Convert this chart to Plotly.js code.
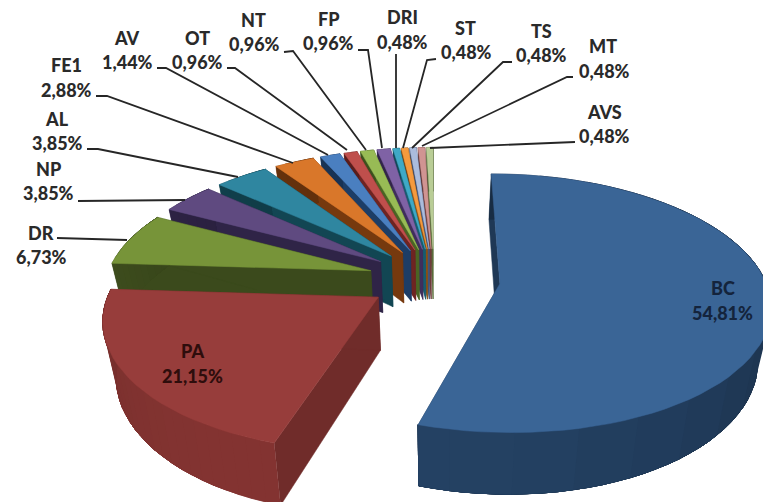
<!DOCTYPE html>
<html>
<head>
<meta charset="utf-8">
<script src="https://cdn.plot.ly/plotly-3.0.1.min.js"></script>
<style>html,body{margin:0;padding:0;background:#fff}#chart{width:763px;height:502px}</style>
</head>
<body>
<div id="chart"></div>
<script>
// Clockwise from twelve o'clock.
const categories = ['BC','PA','DR','NP','AL','FE1','AV','OT','NT','FP','DRI','ST','TS','MT','AVS'];
const shares = [54.81,21.15,6.73,3.85,3.85,2.88,1.44,0.96,0.96,0.96,0.48,0.48,0.48,0.48,0.48];
const shareLabels = ['54,81%','21,15%','6,73%','3,85%','3,85%','2,88%','1,44%','0,96%','0,96%','0,96%','0,48%','0,48%','0,48%','0,48%','0,48%'];
const topColors = ['#3a6596','#973d3b','#779439','#5f4a80','#2f86a0','#d9772a','#4a7fc0','#bf4f4c','#98bb55','#7f62a5','#3fa9c6','#f59a3e','#abbcdc','#d09492','#b9cd96'];
const sideColors = ['#1f3855','#702c2a','#3b4a1c','#2f2447','#124653','#76390e','#1d3d66','#6e2422','#4a6424','#3f2e5c','#175c70','#8a5015','#43557a','#6f3d3c','#5c6e3c'];

// Tilted-disc projection: unit pie coordinates to page pixels.
const centerX = 434, horizonY = 279, radiusX = 265, radiusY = 125;
const perspective = 0.15, explode = 0.25, thickness = 52, floorShrink = 0.04, arcSteps = 60;

function project(u, v, drop) {
  const w = 1 + perspective * v;
  const x = centerX + radiusX * u / w;
  const y = horizonY - radiusY * v / w;
  return drop ? [centerX + (x - centerX) * (1 - floorShrink), y + thickness / w] : [x, y];
}

function polygon(points, color) {
  return {
    type: 'scatter', mode: 'lines', fill: 'toself', fillcolor: color,
    x: points.map(p => p[0]), y: points.map(p => p[1]),
    line: {color: color, width: 0.5}, hoverinfo: 'skip', showlegend: false
  };
}

// Scales a hex colour's brightness for the rim shading.
function shade(hex, f) {
  const ch = [1, 3, 5].map(o => Math.min(255, Math.round(parseInt(hex.substr(o, 2), 16) * f)));
  return 'rgb(' + ch.join(',') + ')';
}

const total = shares.reduce((a, b) => a + b, 0);
let cumulative = 0;
const slices = shares.map((share, i) => {
  const start = cumulative / total * 2 * Math.PI;
  cumulative += share;
  return {i, start, end: cumulative / total * 2 * Math.PI};
});

function sliceTraces(s) {
  const mid = (s.start + s.end) / 2;
  const ou = explode * Math.sin(mid), ov = explode * Math.cos(mid);
  const steps = Math.max(2, Math.ceil(arcSteps * (s.end - s.start) / Math.PI));
  const rim = [];
  for (let k = 0; k <= steps; k++) {
    const a = s.start + (s.end - s.start) * k / steps;
    rim.push({p: [ou + Math.sin(a), ov + Math.cos(a)], a});
  }
  const hub = [ou, ov];
  const at = (p, d) => project(p[0], p[1], d);
  const side = sideColors[s.i];
  const first = rim[0].p, last = rim[rim.length - 1].p;
  const out = [
    polygon([at(hub), at(first), at(first, true), at(hub, true), at(hub)], side),
    polygon([at(hub), at(last), at(last, true), at(hub, true), at(hub)], side)
  ];
  // Rim wall: each band runs on to the end of the arc, so later bands overlap it with no seams.
  const bandLength = Math.max(1, Math.floor(steps / 14));
  for (let k = 0; k < steps; k += bandLength) {
    const run = rim.slice(k).map(r => r.p);
    const facing = Math.cos(rim[k].a - 3.5);
    const pts = run.map(p => at(p)).concat(run.slice().reverse().map(p => at(p, true)));
    out.push(polygon(pts, shade(side, 0.97 + 0.2 * facing)));
  }
  out.push(polygon([at(hub)].concat(rim.map(r => at(r.p))).concat([at(hub)]), topColors[s.i]));
  return out;
}

// Back slices first, then round to the front ones.
const paintOrder = [14,13,12,11,10,9,8,7,6,5,4,3,2,1,0];
const traces = [];
paintOrder.forEach(i => traces.push(...sliceTraces(slices[i])));

// Leader lines from the outer labels to their slices.
const leaders = {
  DR: [[57,238],[127,240]],
  NP: [[78,201],[185,200]],
  AL: [[87,149],[98,149],[238,177]],
  FE1: [[96,96],[107,96],[293,163]],
  AV: [[157,68],[166,68],[328,155]],
  OT: [[227,68],[235,68],[347,150]],
  NT: [[284,52],[293,51],[366,150]],
  FP: [[358,50],[368,50],[382,148]],
  DRI: [[396,54],[396,148]],
  ST: [[436,59],[427,60],[403,148]],
  TS: [[512,62],[503,62],[412,148]],
  MT: [[573,77],[567,77],[422,146]],
  AVS: [[575,142],[430,148]]
};
Object.keys(leaders).forEach(k => traces.push({
  type: 'scatter', mode: 'lines',
  x: leaders[k].map(p => p[0]), y: leaders[k].map(p => p[1]),
  line: {color: '#262626', width: 1.8}, hoverinfo: 'skip', showlegend: false
}));

// Label centres: name line, then percentage line.
const labelSpots = {
  BC: [723,288,722,313], PA: [192,351,192,376], DR: [41,233,41,257], NP: [48,169,48,193],
  AL: [57,119,57,143], FE1: [66,65,66,90], AV: [127,38,127,62], OT: [197,38,197,62],
  NT: [253,20,254,44], FP: [328,19,328,43], DRI: [402,17,402,42], ST: [465,28,466,52],
  TS: [541,31,541,55], MT: [603,46,604,71], AVS: [604,112,604,136]
};
const inkColors = {BC: '#14243c', PA: '#2e0d0c'};
const annotations = [];
categories.forEach((name, i) => {
  const [nx, ny, px, py] = labelSpots[name];
  const font = {family: 'Lato, sans-serif', size: 18, weight: 900, color: inkColors[name] || '#2a2a2a'};
  const base = {xref: 'x', yref: 'y', showarrow: false, xanchor: 'center', yanchor: 'middle', font};
  annotations.push(Object.assign({x: nx, y: ny, text: name}, base));
  annotations.push(Object.assign({x: px, y: py, text: shareLabels[i]}, base));
});

const hiddenAxis = {visible: false, fixedrange: true, showgrid: false, zeroline: false};
Plotly.newPlot('chart', traces, {
  width: 763, height: 502,
  margin: {l: 0, r: 0, t: 0, b: 0},
  paper_bgcolor: '#fff', plot_bgcolor: '#fff',
  showlegend: false,
  xaxis: Object.assign({range: [0, 763]}, hiddenAxis),
  yaxis: Object.assign({range: [502, 0]}, hiddenAxis),
  annotations
}, {displayModeBar: false, staticPlot: true});
</script>
</body>
</html>
